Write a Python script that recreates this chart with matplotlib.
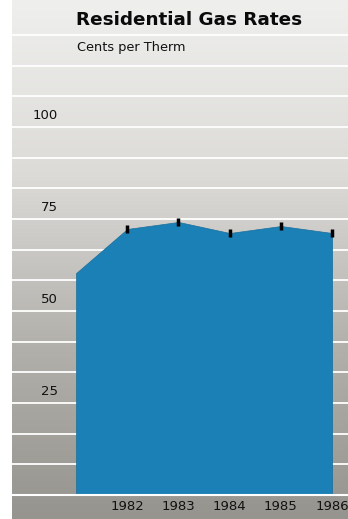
import numpy as np
import matplotlib.pyplot as plt
from matplotlib.colors import LinearSegmentedColormap

# data (cents per therm)
years = [1981, 1982, 1983, 1984, 1985, 1986]
rates = [60.3, 72.3, 74.2, 71.2, 73.1, 71.2]
tick_years = [1982, 1983, 1984, 1985, 1986]
y_labels = [25, 50, 75, 100]

title = "Residential Gas Rates"
subtitle = "Cents per Therm"

fig = plt.figure(figsize=(3.48, 5.19), dpi=100, facecolor="white")
ax = fig.add_axes([12 / 348, 0, 336 / 348, 1])
ax.set_xlim(1979.75, 1986.31)
ax.set_ylim(-6.5, 134.5)
ax.axis("off")

# light-to-dark grey background (light at the top)
cmap = LinearSegmentedColormap.from_list("bg", ["#efefed", "#dcdbd8", "#b2b0ab", "#96948f"])
grad = np.linspace(0, 1, 256).reshape(-1, 1)
ax.imshow(grad, cmap=cmap, aspect="auto", extent=(1979.75, 1986.31, -6.5, 134.5),
          origin="upper", zorder=0, vmin=0, vmax=1)

# white rules every third of 25 cents
for y in np.arange(25 / 3, 130, 25 / 3):
    ax.axhline(y, color="white", lw=1.3, zorder=1)

ax.fill_between(years, 0, rates, color="#1b80b5", lw=0.5, edgecolor="#1a6f9c", zorder=2)
ax.axhline(0, color="white", lw=1.5, zorder=3)
ax.plot(tick_years, rates[1:], ls="none", marker="|", ms=6, mew=2.5, color="black", zorder=4)

font = "DejaVu Sans"
for v in y_labels:
    ax.text(1980.64, v + 1.3, str(v), ha="right", va="bottom", fontsize=9.5, family=font,
            color="#111111", zorder=5)
for yr in tick_years:
    ax.text(yr, -3.0, str(yr), ha="center", va="center", fontsize=9.5, family=font,
            color="#111111", zorder=5)

fig.text(76 / 348, 1 - 20 / 519, title, ha="left", va="center", fontsize=13.2,
         fontweight="bold", family=font, color="#0a0a0a")
fig.text(77 / 348, 1 - 47 / 519, subtitle, ha="left", va="center", fontsize=9.3,
         family=font, color="#111111")

fig.savefig("out.png", dpi=100, facecolor="white")
